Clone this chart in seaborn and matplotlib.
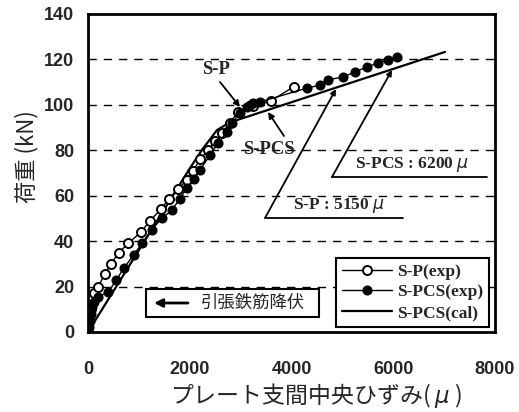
import numpy as np
import pandas as pd
import matplotlib
matplotlib.use("Agg")
import matplotlib.pyplot as plt
import seaborn as sns
from matplotlib.patches import Rectangle

# ---- data ----
sp_x = [0, 60, 120, 200, 330, 450, 610, 790, 1040, 1220, 1430, 1590,
        1770, 1950, 2070, 2200, 2360, 2500, 2630, 2790, 2950, 3250, 3590, 4045]
sp_y = [0, 10, 17, 20, 25.5, 30, 35, 39, 44, 49, 54, 58.6,
        63, 67, 71, 76, 80, 84, 87.6, 92, 97, 99.5, 101.7, 108]

spcs_x = [0, 20, 40, 60, 80, 110, 200, 400, 560, 700, 900, 1060, 1250, 1450,
          1651, 1800, 1946, 2080, 2202, 2398, 2556, 2733, 2830, 2990, 3126,
          3180, 3244, 3382, 4306, 4561, 4718, 5013, 5250, 5485, 5701, 5898, 6075]
spcs_y = [0, 2, 5, 8, 11, 13, 15.5, 17.6, 23, 28, 34, 39, 45, 50,
          53.7, 58.5, 63.4, 67.5, 71.3, 77.9, 83.2, 88.1, 92, 96.5, 99,
          100, 100.8, 101.3, 107.4, 108.7, 111, 112.3, 114.5, 116.7, 118.4,
          119.8, 121.1]

cal_x = [0, 1000, 2000, 2250, 2536, 2750, 2929, 7018]
cal_y = [0, 36, 72, 80.5, 88.9, 91.8, 93.3, 123.3]

x_ticks = [0, 2000, 4000, 6000, 8000]
y_ticks = [0, 20, 40, 60, 80, 100, 120, 140]
grid_levels = [20, 40, 60, 80, 100, 120]

sp = pd.DataFrame({"x": sp_x, "y": sp_y})
spcs = pd.DataFrame({"x": spcs_x, "y": spcs_y})
cal = pd.DataFrame({"x": cal_x, "y": cal_y})

sns.set_style("white")
plt.rcParams['font.family'] = ['Liberation Sans', 'Noto Sans CJK JP', 'DejaVu Sans']

W, H = 519, 412
fig = plt.figure(figsize=(W / 100, H / 100), dpi=100)
L, R, T, B = 88, 495, 14, 332
ax = fig.add_axes([L / W, 1 - B / H, (R - L) / W, (B - T) / H])

def px2ax(px, py):
    return ((px - L) / (R - L), (B - py) / (B - T))

for lv in grid_levels:
    ax.axhline(lv, color='black', lw=1.0, ls=(0, (6, 5)), zorder=0)

sns.lineplot(data=cal, x="x", y="y", ax=ax, color='black', lw=1.6,
             sort=False, estimator=None, label='S-PCS(cal)', zorder=2)
sns.lineplot(data=sp, x="x", y="y", ax=ax, color='black', lw=1.0,
             marker='o', markersize=6.5, markerfacecolor='white',
             markeredgecolor='black', markeredgewidth=1.4, sort=False,
             estimator=None, label='S-P(exp)', zorder=3)
sns.lineplot(data=spcs, x="x", y="y", ax=ax, color='black', lw=1.0,
             marker='o', markersize=6.5, markerfacecolor='black',
             markeredgecolor='black', sort=False, estimator=None,
             label='S-PCS(exp)', zorder=4)

ax.set_xlim(0, 8000)
ax.set_ylim(0, 140)
ax.set_xticks(x_ticks)
ax.set_yticks(y_ticks)
ax.set_xticklabels([str(v) for v in x_ticks], fontsize=13, fontweight='bold')
ax.set_yticklabels([str(v) for v in y_ticks], fontsize=13, fontweight='bold')
ax.tick_params(axis='x', length=0, pad=21)
ax.tick_params(axis='y', length=0, pad=10)
ax.set_xlabel("")
ax.set_ylabel("")
for s in ax.spines.values():
    s.set_visible(True)
    s.set_color('black')
    s.set_linewidth(2)

# legend
h, l = ax.get_legend_handles_labels()
order = [l.index('S-P(exp)'), l.index('S-PCS(exp)'), l.index('S-PCS(cal)')]
leg = ax.legend([h[i] for i in order], [l[i] for i in order],
                loc='lower right', bbox_to_anchor=px2ax(489, 327),
                frameon=True, fancybox=False, framealpha=1, edgecolor='black',
                prop={'family': 'Liberation Serif', 'weight': 'bold', 'size': 12.5},
                handlelength=2.9, handletextpad=0.25, borderpad=0.35,
                labelspacing=0.25, borderaxespad=0)
leg.get_frame().set_linewidth(1.5)

serif = {'family': 'Liberation Serif', 'weight': 'bold', 'size': 12.5}
serif_big = {'family': 'Liberation Serif', 'weight': 'bold', 'size': 13.5}

# callouts S-P and S-PCS
ax.annotate('', xy=px2ax(240, 107), xytext=px2ax(220, 82),
            xycoords='axes fraction', textcoords='axes fraction',
            arrowprops=dict(arrowstyle='-|>', color='black', lw=1.3,
                            mutation_scale=9, shrinkA=0, shrinkB=0))
ax.text(*px2ax(216, 70), 'S-P', transform=ax.transAxes, ha='center',
        va='center', fontdict=serif_big)
ax.annotate('', xy=px2ax(268, 112), xytext=px2ax(284, 136),
            xycoords='axes fraction', textcoords='axes fraction',
            arrowprops=dict(arrowstyle='-|>', color='black', lw=1.3,
                            mutation_scale=9, shrinkA=0, shrinkB=0))
ax.text(*px2ax(269, 149), 'S-PCS', transform=ax.transAxes, ha='center',
        va='center', fontdict=serif_big)

# steel strain callouts
for tip, corner, end, txt, tpos in [
        ((392, 70), (332, 177), (487, 177), 'S-PCS : 6200', (412, 164)),
        ((336, 89), (265, 218), (403, 218), 'S-P : 5150', (339, 206))]:
    ax.plot(*zip(px2ax(*corner), px2ax(*end)), transform=ax.transAxes,
            color='black', lw=1.3)
    ax.annotate('', xy=px2ax(*tip), xytext=px2ax(*corner),
                xycoords='axes fraction', textcoords='axes fraction',
                arrowprops=dict(arrowstyle='-|>', color='black', lw=1.3,
                                mutation_scale=8, shrinkA=0, shrinkB=0))
    ax.text(*px2ax(*tpos), txt + r' $\mu$', transform=ax.transAxes,
            ha='center', va='center', fontdict=serif)

# yielding box
x0, y0 = px2ax(146, 317)
x1, y1 = px2ax(319, 289)
ax.add_patch(Rectangle((x0, y0), x1 - x0, y1 - y0, transform=ax.transAxes,
                       fill=True, facecolor='white', edgecolor='black', lw=1.5,
                       zorder=5))
ax.annotate('', xy=px2ax(154, 303), xytext=px2ax(188, 303),
            xycoords='axes fraction', textcoords='axes fraction',
            arrowprops=dict(arrowstyle='-|>', color='black', lw=2,
                            mutation_scale=12, shrinkA=0, shrinkB=0), zorder=6)
ax.text(*px2ax(253, 303), '引張鉄筋降伏', transform=ax.transAxes,
        ha='center', va='center', fontsize=12.5,
        family=['Noto Sans CJK JP', 'DejaVu Sans'], zorder=6)

# axis labels
fig.text(316 / W, 1 - 395 / H, 'プレート支間中央ひずみ( $\\mu$ )', ha='center', va='center',
         fontsize=16.5, family=['Noto Sans CJK JP', 'DejaVu Sans'])
fig.text(27 / W, 1 - 157 / H, '荷重 (kN)', ha='center', va='center', rotation=90,
         fontsize=16, family=['Noto Sans CJK JP', 'DejaVu Sans'])

fig.savefig('out.png', dpi=100)
